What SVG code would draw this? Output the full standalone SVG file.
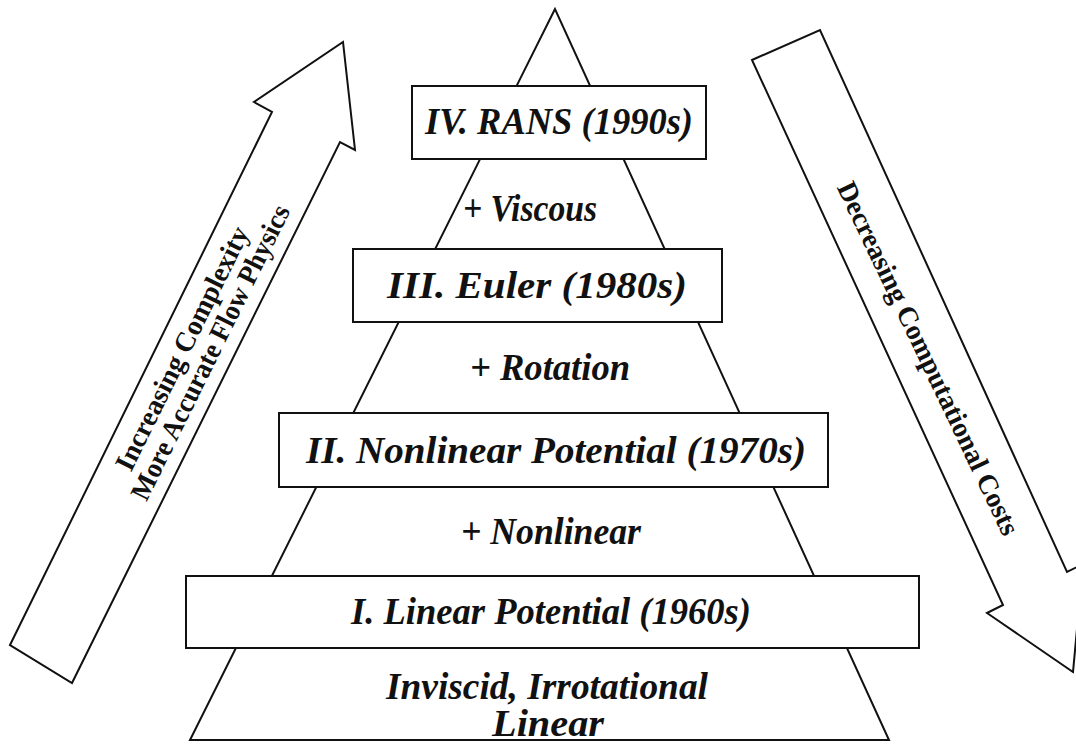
<svg xmlns="http://www.w3.org/2000/svg" width="1076" height="746" viewBox="0 0 1076 746">
<style>
.ln{fill:#fff;stroke:#111;stroke-width:2;stroke-linejoin:miter}
.t{font-family:"Liberation Serif","Times New Roman",serif;font-weight:bold;font-style:italic;fill:#111;text-anchor:middle;font-size:37px}
.a{font-family:"Liberation Serif","Times New Roman",serif;font-weight:bold;fill:#111;text-anchor:middle;font-size:28px}
</style>
<rect width="1076" height="746" fill="#fff"/>
<g id="pyramid">
<polygon class="ln" points="555,9 190,740 889,740"/>
</g>
<g id="connectors">
<polygon id="arrow-up" class="ln" points="10,645 272,112 254,102 343,42 355,150 340,142 72,683"/>
<polygon id="arrow-down" class="ln" points="752,60 820,30 1067,572 1083,564 1073,672 987,613 1003,605"/>
</g>
<g id="arrow-up-label">
<g transform="translate(201,340) rotate(-63.7)">
<text class="a" x="-16" y="-4" textLength="268" lengthAdjust="spacingAndGlyphs">Increasing Complexity</text>
<text class="a" x="-7" y="23" textLength="325" lengthAdjust="spacingAndGlyphs">More Accurate Flow Physics</text>
</g>
</g>
<g id="arrow-down-label">
<g transform="translate(929,358) rotate(64.5)">
<text class="a" x="0" y="10" textLength="388" lengthAdjust="spacingAndGlyphs">Decreasing Computational Costs</text>
</g>
</g>
<g id="box-iv">
<rect class="ln" x="412" y="86" width="294" height="73"/>
<text class="t" x="559" y="134" textLength="268" lengthAdjust="spacingAndGlyphs">IV. RANS (1990s)</text>
</g>
<g id="label-viscous">
<text class="t" x="530" y="221" textLength="134" lengthAdjust="spacingAndGlyphs">+ Viscous</text>
</g>
<g id="box-iii">
<rect class="ln" x="353" y="249" width="369" height="73"/>
<text class="t" x="537" y="298" textLength="300" lengthAdjust="spacingAndGlyphs">III. Euler (1980s)</text>
</g>
<g id="label-rotation">
<text class="t" x="550" y="380" textLength="160" lengthAdjust="spacingAndGlyphs">+ Rotation</text>
</g>
<g id="box-ii">
<rect class="ln" x="279" y="413" width="549" height="74"/>
<text class="t" x="556" y="463" textLength="500" lengthAdjust="spacingAndGlyphs">II. Nonlinear Potential (1970s)</text>
</g>
<g id="label-nonlinear">
<text class="t" x="551" y="544" textLength="180" lengthAdjust="spacingAndGlyphs">+ Nonlinear</text>
</g>
<g id="box-i">
<rect class="ln" x="186" y="576" width="733" height="72"/>
<text class="t" x="551" y="624" textLength="400" lengthAdjust="spacingAndGlyphs">I. Linear Potential (1960s)</text>
</g>
<g id="label-base">
<text class="t" x="547" y="699" textLength="322" lengthAdjust="spacingAndGlyphs">Inviscid, Irrotational</text>
<text class="t" x="548" y="736" textLength="112" lengthAdjust="spacingAndGlyphs">Linear</text>
</g>
</svg>
